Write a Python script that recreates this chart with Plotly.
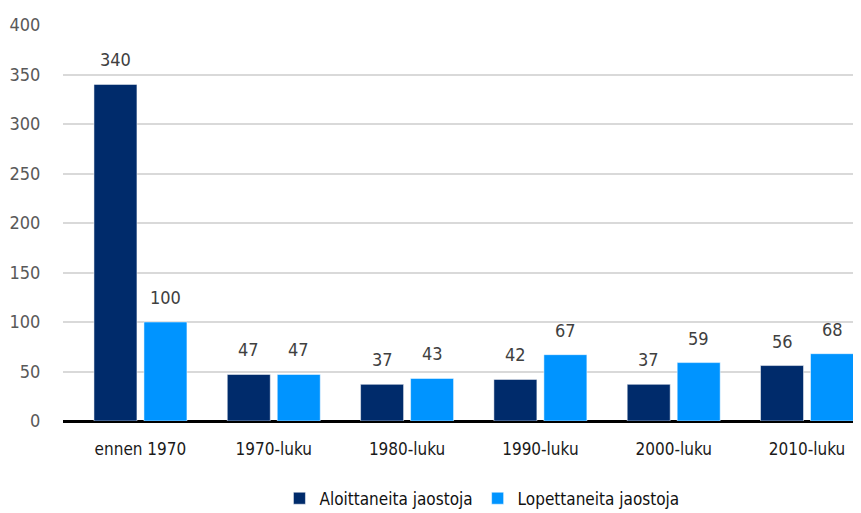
import plotly.graph_objects as go

categories = ["ennen 1970", "1970-luku", "1980-luku", "1990-luku", "2000-luku", "2010-luku"]
aloittaneita = [340, 47, 37, 42, 37, 56]
lopettaneita = [100, 47, 43, 67, 59, 68]
series_names = ["Aloittaneita jaostoja", "Lopettaneita jaostoja"]
y_ticks = [0, 50, 100, 150, 200, 250, 300, 350, 400]

FONT = "DejaVu Sans Condensed, Liberation Sans Narrow, sans-serif"
DARK = "#002B6B"
LIGHT = "#0094FF"

fig = go.Figure()
fig.add_trace(go.Bar(x=categories, y=aloittaneita, name=series_names[0],
                     marker=dict(color=DARK, line=dict(color="rgba(255,255,255,0.5)", width=1))))
fig.add_trace(go.Bar(x=categories, y=lopettaneita, name=series_names[1],
                     marker=dict(color=LIGHT, line=dict(color="rgba(255,255,255,0.5)", width=1))))

annotations = []
for vals, shift in ((aloittaneita, -25), (lopettaneita, 25)):
    for c, v in zip(categories, vals):
        annotations.append(dict(x=c, y=v, xref="x", yref="y", text=str(v), showarrow=False,
                                xshift=shift, yshift=12, yanchor="bottom",
                                font=dict(family=FONT, size=18, color="#404040")))

# page body has an 8px default margin; compensate so the plot lands where the reference has it
fig.update_layout(
    width=853, height=505,
    margin=dict(l=55, r=0, t=17, b=92, autoexpand=False),
    paper_bgcolor="white", plot_bgcolor="white",
    barmode="group", bargap=0.25, bargroupgap=0.14,
    font=dict(family=FONT, size=18, color="#595959"),
    showlegend=True,
    legend=dict(orientation="h", x=0.525, xanchor="center", xref="paper",
                y=0.064, yanchor="top", yref="container",
                font=dict(family=FONT, size=17, color="#111111"),
                itemwidth=30, traceorder="normal"),
    annotations=annotations,
)
fig.update_xaxes(range=[-0.581, 5.405], showgrid=False, showline=False,
                 tickfont=dict(family=FONT, size=17, color="#1a1a1a"),
                 ticks="outside", ticklen=13, tickcolor="rgba(0,0,0,0)")
fig.update_yaxes(range=[0, 400], tickvals=y_ticks, showgrid=True, gridcolor="#D9D9D9", gridwidth=1.5,
                 zeroline=True, zerolinecolor="black", zerolinewidth=3,
                 showline=False, tickfont=dict(family=FONT, size=18, color="#595959"),
                 ticks="outside", ticklen=18, tickcolor="rgba(0,0,0,0)")

fig.write_html("out.html")
